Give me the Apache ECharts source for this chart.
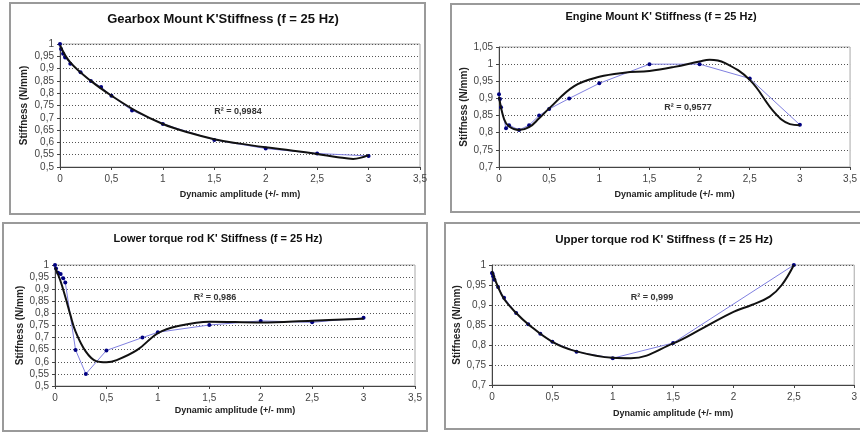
<!DOCTYPE html>
<html>
<head>
<meta charset="utf-8">
<script src="https://cdn.jsdelivr.net/npm/echarts@6/dist/echarts.min.js"></script>
<style>
html,body{margin:0;padding:0;background:#fff;}
#chart{width:860px;height:432px;}
</style>
</head>
<body>
<div id="chart"></div>
<script>
// gearbox mount
var gearX = [0, 0.01, 0.03, 0.05, 0.1, 0.2, 0.3, 0.4, 0.5, 0.7, 1, 1.5, 2, 2.5, 3];
var gearY = [1.0, 0.98, 0.96, 0.945, 0.92, 0.885, 0.85, 0.825, 0.79, 0.73, 0.675, 0.61, 0.575, 0.555, 0.545];
var gearTrendX = [0, 0.1, 0.3, 0.5, 0.75, 1, 1.25, 1.5, 1.75, 2, 2.25, 2.5, 2.7, 2.85, 3];
var gearTrendY = [0.995, 0.925, 0.85, 0.79, 0.725, 0.675, 0.64, 0.613, 0.595, 0.58, 0.567, 0.553, 0.54, 0.533, 0.548];

// engine mount
var engX = [0, 0.01, 0.02, 0.07, 0.1, 0.2, 0.3, 0.4, 0.5, 0.7, 1, 1.5, 2, 2.5, 3];
var engY = [0.912, 0.898, 0.874, 0.813, 0.822, 0.808, 0.822, 0.85, 0.869, 0.9, 0.944, 1.0, 1.0, 0.958, 0.823];
var engTrendX = [0, 0.05, 0.1, 0.2, 0.3, 0.4, 0.5, 0.75, 1, 1.25, 1.5, 1.75, 2, 2.1, 2.25, 2.5, 2.75, 2.9, 3];
var engTrendY = [0.905, 0.84, 0.818, 0.808, 0.816, 0.842, 0.871, 0.936, 0.963, 0.975, 0.98, 0.992, 1.008, 1.013, 1.004, 0.954, 0.858, 0.825, 0.822];

// lower torque rod
var lowX = [0, 0.01, 0.03, 0.055, 0.08, 0.1, 0.2, 0.3, 0.5, 0.85, 1, 1.5, 2, 2.5, 3];
var lowY = [1.0, 0.986, 0.968, 0.963, 0.945, 0.928, 0.649, 0.55, 0.647, 0.70, 0.722, 0.752, 0.769, 0.763, 0.782];
var lowTrendX = [0, 0.05, 0.1, 0.15, 0.2, 0.3, 0.4, 0.5, 0.6, 0.8, 1, 1.2, 1.5, 2, 2.5, 3];
var lowTrendY = [0.99, 0.938, 0.869, 0.793, 0.725, 0.642, 0.603, 0.598, 0.607, 0.649, 0.718, 0.748, 0.766, 0.762, 0.77, 0.778];

// upper torque rod
var upX = [0, 0.005, 0.01, 0.02, 0.05, 0.1, 0.2, 0.3, 0.4, 0.5, 0.7, 1, 1.5, 2.5];
var upY = [0.98, 0.978, 0.972, 0.963, 0.945, 0.918, 0.88, 0.852, 0.828, 0.808, 0.783, 0.767, 0.805, 1.0];
var upTrendX = [0, 0.05, 0.1, 0.2, 0.3, 0.5, 0.7, 1, 1.15, 1.5, 1.75, 2, 2.15, 2.3, 2.4, 2.5];
var upTrendY = [0.985, 0.945, 0.915, 0.88, 0.852, 0.808, 0.784, 0.768, 0.767, 0.804, 0.843, 0.883, 0.9, 0.921, 0.95, 1.0];

var titles = [
    "Gearbox Mount K'Stiffness (f = 25 Hz)",
    "Engine Mount K' Stiffness (f = 25 Hz)",
    "Lower torque rod K' Stiffness (f = 25 Hz)",
    "Upper torque rod K' Stiffness (f = 25 Hz)"
];
var r2Labels = ['R² = 0,9984', 'R² = 0,9577', 'R² = 0,986', 'R² = 0,999'];
var yMin = [0.5, 0.7, 0.5, 0.7];
var yMax = [1, 1.05, 1, 1];
var xMax = [3.5, 3.5, 3.5, 3];

var font = 'Liberation Sans, Arial, sans-serif';

function pairs(xs, ys){
    var out = [];
    for (var i = 0; i < xs.length; i++) out.push([xs[i], ys[i]]);
    return out;
}
function comma(v){
    return String(+v.toFixed(2)).replace('.', ',');
}

var grids = [
    {left: 60, top: 44, width: 360, height: 123},
    {left: 499, top: 47, width: 360, height: 120},
    {left: 55, top: 265, width: 360, height: 121},
    {left: 492, top: 265, width: 363, height: 120}
];
var yNameGap = [31, 27, 27, 26];
var xNameGap = [23, 23, 20, 24];

var xAxes = [], yAxes = [];
for (var i = 0; i < 4; i++) {
    grids[i].show = true;
    grids[i].borderColor = '#a8a8a8';
    grids[i].borderWidth = 1;
    xAxes.push({
        type: 'value', gridIndex: i, min: 0, max: xMax[i], interval: 0.5,
        name: 'Dynamic amplitude (+/- mm)', nameLocation: 'middle', nameGap: xNameGap[i],
        nameTextStyle: {fontFamily: font, fontSize: 9, fontWeight: 'bold', color: '#222'},
        axisLine: {lineStyle: {color: '#444', width: 1}},
        axisTick: {show: true, length: 3, lineStyle: {color: '#444'}},
        axisLabel: {fontFamily: font, fontSize: 10, color: '#444', margin: 7, formatter: comma},
        splitLine: {show: false}
    });
    yAxes.push({
        type: 'value', gridIndex: i, min: yMin[i], max: yMax[i], interval: 0.05,
        name: 'Stiffness (N/mm)', nameLocation: 'middle', nameGap: yNameGap[i],
        nameTextStyle: {fontFamily: font, fontSize: 10, fontWeight: 'bold', color: '#222'},
        axisLine: {show: true, lineStyle: {color: '#444', width: 1}},
        axisTick: {show: true, length: 3, lineStyle: {color: '#444'}},
        axisLabel: {fontFamily: font, fontSize: 10, color: '#444', margin: 6, formatter: comma},
        splitLine: {show: true, lineStyle: {color: '#555', type: [1, 2], width: 1}}
    });
}

var dataSets = [[gearX, gearY], [engX, engY], [lowX, lowY], [upX, upY]];
var trendSets = [[gearTrendX, gearTrendY], [engTrendX, engTrendY], [lowTrendX, lowTrendY], [upTrendX, upTrendY]];
var series = [];
for (var j = 0; j < 4; j++) {
    series.push({
        type: 'line', xAxisIndex: j, yAxisIndex: j,
        data: pairs(dataSets[j][0], dataSets[j][1]),
        lineStyle: {color: '#8080e0', width: 1},
        itemStyle: {color: '#000080'},
        symbol: 'circle', symbolSize: 4, z: 2
    });
    series.push({
        type: 'line', xAxisIndex: j, yAxisIndex: j,
        data: pairs(trendSets[j][0], trendSets[j][1]),
        smooth: 0.4, showSymbol: false,
        lineStyle: {color: '#111', width: 2}, z: 3
    });
}

// panel frames, titles, R² labels
var panels = [
    {x: 10, y: 3, w: 415, h: 211},
    {x: 451, y: 4, w: 420, h: 208},
    {x: 3, y: 223, w: 424, h: 208},
    {x: 445, y: 223, w: 420, h: 206}
];
var titlePos = [[223, 19, 13, 'bold'], [661, 17, 11, 600], [218, 239, 11, 600], [664, 240, 11.5, 600]];
var r2Pos = [[238, 112], [688, 108], [215, 298], [652, 298]];
var graphic = [];
for (var k = 0; k < 4; k++) {
    graphic.push({
        type: 'rect', z: -10,
        shape: {x: panels[k].x, y: panels[k].y, width: panels[k].w, height: panels[k].h},
        style: {fill: '#fff', stroke: '#9a9a9a', lineWidth: 2}
    });
    graphic.push({
        type: 'text', x: titlePos[k][0], y: titlePos[k][1],
        style: {text: titles[k], fontFamily: font, fontSize: titlePos[k][2], fontWeight: titlePos[k][3],
            fill: '#111', align: 'center', verticalAlign: 'middle'}
    });
    graphic.push({
        type: 'text', x: r2Pos[k][0], y: r2Pos[k][1], z: 100,
        style: {text: r2Labels[k], fontFamily: font, fontSize: 9, fontWeight: 'bold',
            fill: '#333', align: 'center', verticalAlign: 'middle'}
    });
}

var chart = echarts.init(document.getElementById('chart'));
chart.setOption({
    backgroundColor: '#fff',
    animation: false,
    grid: grids,
    xAxis: xAxes,
    yAxis: yAxes,
    series: series,
    graphic: graphic
});
</script>
</body>
</html>
